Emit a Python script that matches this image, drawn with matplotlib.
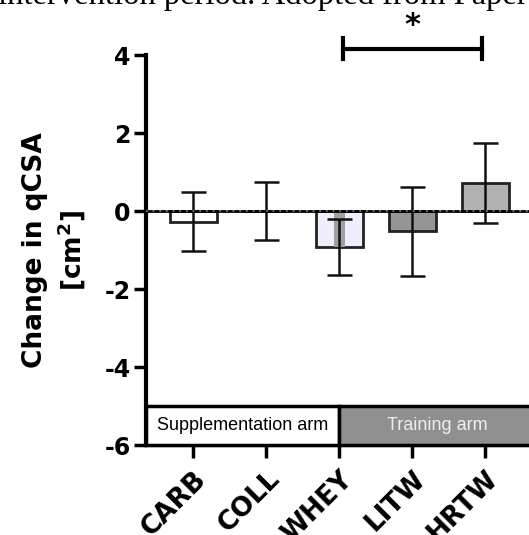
import matplotlib.pyplot as plt
import numpy as np

plt.rcParams['font.family'] = ['Liberation Sans', 'DejaVu Sans']
plt.rcParams['mathtext.fontset'] = 'dejavusans'

groups = ['CARB', 'COLL', 'WHEY', 'LITW', 'HRTW']
means = [-0.27, 0.0, -0.91, -0.52, 0.72]
sds = [0.75, 0.75, 0.72, 1.15, 1.03]
colors = ['#ffffff', '#ffffff', '#eeeefc', '#959595', '#b1b1b1']
arms = ['Supplementation arm', 'Training arm']

x = np.arange(len(groups))
bold = dict(family='DejaVu Sans', fontweight='bold')

fig = plt.figure(figsize=(5.29, 5.35), dpi=100)
ax = fig.add_axes([0.276, 0.168, 0.724, 0.729])

ax.bar(x, means, width=0.64, color=colors, edgecolor='#222222', linewidth=2, zorder=2)
# darker stripe inside the WHEY bar
ax.bar(x[2], means[2], width=0.15, color='#a0a0a0', linewidth=0, zorder=2.5)
ax.errorbar(x, means, yerr=sds, fmt='none', ecolor='#111111', elinewidth=1.8,
            capsize=9, capthick=1.8, zorder=3)

ax.axhline(0, color='black', lw=2, zorder=4)
ax.axhline(0, color='#888888', lw=1.2, ls=(0, (1, 3)), zorder=4.5)

# arm boxes along the bottom
ax.add_patch(plt.Rectangle((-0.65, -6), 0.65 + 2.0, 1.0, facecolor='white',
                           edgecolor='black', lw=2.5, zorder=5, clip_on=False))
ax.add_patch(plt.Rectangle((2.0, -6), 3.0, 1.0, facecolor='#8f8f8f',
                           edgecolor='black', lw=2.5, zorder=5, clip_on=False))
ax.text(0.68, -5.5, arms[0], ha='center', va='center', fontsize=13, zorder=6)
ax.text(3.35, -5.5, arms[1], ha='center', va='center', fontsize=13,
        color='#eeeeee', zorder=6)

# significance bracket
ax.plot([2.05, 3.95], [4.16, 4.16], color='black', lw=3, clip_on=False)
ax.plot([2.05, 2.05], [3.9, 4.45], color='black', lw=3, clip_on=False)
ax.plot([3.95, 3.95], [3.9, 4.45], color='black', lw=3, clip_on=False)
ax.text(3.0, 4.75, '*', ha='center', va='center', fontsize=22, **bold)

ax.set_xlim(-0.65, 4.6)
ax.set_ylim(-6, 4)
ax.set_yticks([-6, -4, -2, 0, 2, 4])
ax.set_yticklabels(['-6', '-4', '-2', '0', '2', '4'], fontsize=17, **bold)
ax.set_xticks(x)
ax.set_xticklabels(groups, rotation=45, ha='right', rotation_mode='anchor',
                   fontsize=19, **bold)
ax.tick_params(axis='both', length=9, width=2.5, pad=2)
ax.tick_params(axis='x', pad=6)

for s in ['top', 'right']:
    ax.spines[s].set_visible(False)
ax.spines['left'].set_linewidth(3)
ax.spines['bottom'].set_linewidth(3)

ax.set_ylabel('Change in qCSA\n[cm$^{\\mathbf{2}}$]', fontsize=19,
              linespacing=1.3, labelpad=12, **bold)

fig.text(-0.004, 1 - 4 / 535, 'intervention period. Adopted from Paper',
         family='Liberation Serif', fontsize=23.5, ha='left', va='baseline')

fig.savefig('out.png', dpi=100)
